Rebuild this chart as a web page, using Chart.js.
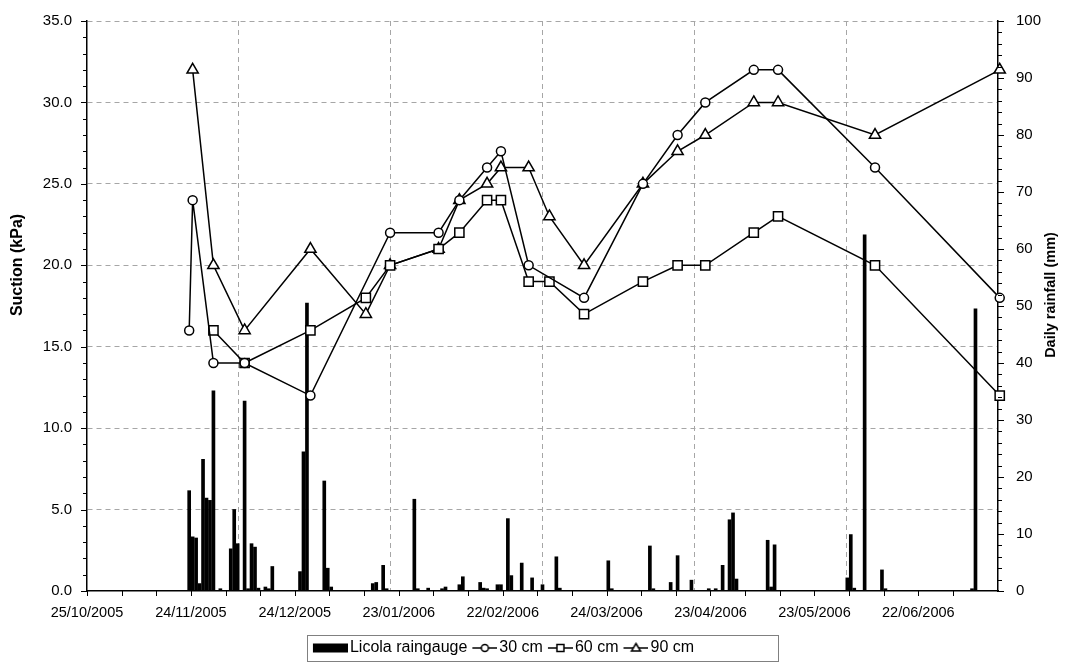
<!DOCTYPE html>
<html>
<head>
<meta charset="utf-8">
<script src="https://cdn.jsdelivr.net/npm/chart.js@4.4.0/dist/chart.umd.min.js"></script>
<style>
  html, body { margin: 0; padding: 0; background: #fff; }
  #wrap { width: 1068px; height: 662px; }
</style>
</head>
<body>
<div id="wrap"><canvas id="suctionChart"></canvas></div>
<script>
// day 0 and last day of the date axis
const startDate = '25/10/2005';
const endDate = '15/07/2006';

// tensiometer readings (kPa), null = no reading that day
const surveyDates = ['23/11/2005', '24/11/2005', '30/11/2005', '09/12/2005', '28/12/2005', '13/01/2006',
  '20/01/2006', '03/02/2006', '09/02/2006', '17/02/2006', '21/02/2006', '01/03/2006', '07/03/2006',
  '17/03/2006', '03/04/2006', '13/04/2006', '21/04/2006', '05/05/2006', '12/05/2006', '09/06/2006', '15/07/2006'];
const suction30 = [16, 24, 14, 14, 12, null, 22, 22, 24, 26, 27, 20, null, 18, 25, 28, 30, 32, 32, 26, 18];
const suction60 = [null, null, 16, 14, 16, 18, 20, 21, 22, 24, 24, 19, 19, 17, 19, 20, 20, 22, 23, 20, 12];
const suction90 = [null, 32, 20, 16, 21, 17, 20, 21, 24, 25, 26, 26, 23, 20, 25, 27, 28, 30, 30, 28, 32];

// Licola daily rainfall (mm)
const rainDates = ['23/11/2005', '24/11/2005', '25/11/2005', '26/11/2005', '27/11/2005', '28/11/2005', '29/11/2005',
  '30/11/2005', '02/12/2005', '05/12/2005', '06/12/2005', '07/12/2005', '09/12/2005', '10/12/2005', '11/12/2005',
  '12/12/2005', '13/12/2005', '15/12/2005', '16/12/2005', '17/12/2005', '25/12/2005', '26/12/2005', '27/12/2005',
  '01/01/2006', '02/01/2006', '03/01/2006', '15/01/2006', '16/01/2006', '18/01/2006', '19/01/2006', '27/01/2006',
  '28/01/2006', '31/01/2006', '04/02/2006', '05/02/2006', '09/02/2006', '10/02/2006', '15/02/2006', '16/02/2006',
  '17/02/2006', '20/02/2006', '21/02/2006', '23/02/2006', '24/02/2006', '27/02/2006', '02/03/2006', '05/03/2006',
  '09/03/2006', '10/03/2006', '24/03/2006', '25/03/2006', '05/04/2006', '06/04/2006', '11/04/2006', '13/04/2006',
  '17/04/2006', '22/04/2006', '24/04/2006', '26/04/2006', '28/04/2006', '29/04/2006', '30/04/2006', '09/05/2006',
  '10/05/2006', '11/05/2006', '01/06/2006', '02/06/2006', '03/06/2006', '06/06/2006', '11/06/2006', '12/06/2006',
  '07/07/2006', '08/07/2006'];
const rainMm = [17.6, 9.5, 9.3, 1.3, 23.1, 16.3, 15.9,
  35.1, 0.4, 7.4, 14.3, 8.3, 33.3, 0.4, 8.3,
  7.7, 0.5, 0.7, 0.4, 4.3, 3.4, 24.4, 50.5,
  19.3, 4.0, 0.7, 1.3, 1.5, 4.5, 0.4, 16.1,
  0.4, 0.5, 0.4, 0.7, 1.1, 2.5, 1.5, 0.5,
  0.4, 1.1, 1.1, 12.7, 2.7, 4.9, 2.3, 1.1,
  6.0, 0.5, 5.3, 0.4, 7.9, 0.4, 1.5, 6.2,
  1.9, 0.4, 0.4, 4.5, 12.5, 13.7, 2.1, 8.9,
  0.7, 8.1, 2.3, 9.9, 0.5, 62.5, 3.7, 0.4,
  0.4, 49.5];

const xTickLabels = ['25/10/2005', '24/11/2005', '24/12/2005', '23/01/2006', '22/02/2006',
  '24/03/2006', '23/04/2006', '23/05/2006', '22/06/2006'];

const FONT = 'Liberation Sans, Arial, sans-serif';

function toDay(s) {
  const [d, m, y] = s.split('/').map(Number);
  const [d0, m0, y0] = startDate.split('/').map(Number);
  return Math.round((Date.UTC(y, m - 1, d) - Date.UTC(y0, m0 - 1, d0)) / 86400000);
}

const xMax = toDay(endDate);
const labelDays = xTickLabels.map(toDay);

// points sit in the middle of their day, like the spreadsheet's date axis
const rainPoints = rainDates.map((d, i) => ({x: toDay(d) + 0.5, y: rainMm[i]}));
const seriesPoints = vals => surveyDates
  .map((d, i) => ({x: toDay(d) + 0.5, y: vals[i]}))
  .filter(p => p.y !== null);

// legend symbols: Excel-style line + marker
const ICON_W = 36, ICON_H = 14;
function makeIcon(draw) {
  const c = document.createElement('canvas');
  c.width = ICON_W;
  c.height = ICON_H;
  const g = c.getContext('2d');
  g.strokeStyle = '#000';
  g.fillStyle = '#000';
  g.lineWidth = 1.5;
  draw(g);
  return c;
}
function lineIcon(marker) {
  return makeIcon(g => {
    const cy = ICON_H / 2, x0 = ICON_W - 25, cx = ICON_W - 12.5;
    g.beginPath();
    g.moveTo(x0, cy);
    g.lineTo(ICON_W, cy);
    g.stroke();
    g.fillStyle = '#fff';
    g.beginPath();
    if (marker === 'circle') g.arc(cx, cy, 3.5, 0, Math.PI * 2);
    if (marker === 'rect') g.rect(cx - 3.5, cy - 3.5, 7, 7);
    if (marker === 'triangle') {
      g.moveTo(cx, cy - 4.5);
      g.lineTo(cx + 4.5, cy + 3);
      g.lineTo(cx - 4.5, cy + 3);
      g.closePath();
    }
    g.fill();
    g.stroke();
  });
}
const legendIcons = [
  makeIcon(g => g.fillRect(ICON_W - 35, 2.5, 35, 9)),
  lineIcon('circle'),
  lineIcon('rect'),
  lineIcon('triangle')
];

const axisExtras = {
  id: 'axisExtras',
  afterDraw(chart) {
    const {ctx, scales: {x, y, y2}} = chart;
    ctx.save();
    ctx.strokeStyle = '#000';
    ctx.lineWidth = 1;
    ctx.beginPath();
    x.ticks.forEach(t => {
      if (t.value % 10 !== 0) return;
      const px = Math.round(x.getPixelForValue(t.value)) + 0.5;
      ctx.moveTo(px, x.top);
      ctx.lineTo(px, x.top + 5);
    });
    y.ticks.forEach(t => {
      const py = Math.round(y.getPixelForValue(t.value)) + 0.5;
      ctx.moveTo(y.right - (t.value % 5 === 0 ? 6 : 4), py);
      ctx.lineTo(y.right, py);
    });
    y2.ticks.forEach(t => {
      const py = Math.round(y2.getPixelForValue(t.value)) + 0.5;
      ctx.moveTo(y2.left, py);
      ctx.lineTo(y2.left + (t.value % 10 === 0 ? 6 : 4), py);
    });
    ctx.stroke();

    // axis titles
    ctx.fillStyle = '#000';
    ctx.textAlign = 'center';
    ctx.textBaseline = 'middle';
    ctx.font = 'bold 16px ' + FONT;
    ctx.save();
    ctx.translate(18, 265);
    ctx.rotate(-Math.PI / 2);
    ctx.fillText('Suction (kPa)', 0, 0);
    ctx.restore();
    ctx.font = 'bold 14.5px ' + FONT;
    ctx.save();
    ctx.translate(1051, 295);
    ctx.rotate(-Math.PI / 2);
    ctx.fillText('Daily rainfall (mm)', 0, 0);
    ctx.restore();

    // legend frame
    const boxes = chart.legend.legendHitBoxes;
    if (boxes && boxes.length) {
      const first = boxes[0];
      const left = Math.round(first.left) - 10.5;
      const top = Math.round(first.top) - 4.5;
      ctx.strokeStyle = '#808080';
      ctx.lineWidth = 1;
      ctx.strokeRect(left, top, 471, 661.5 - top);
    }
    ctx.restore();
  }
};

const lineStyle = (label, vals, marker, radius) => ({
  type: 'line',
  label: label,
  data: seriesPoints(vals),
  xAxisID: 'x',
  yAxisID: 'y',
  borderColor: '#000',
  borderWidth: 1.5,
  pointStyle: marker,
  pointRadius: radius,
  pointHoverRadius: radius,
  pointBackgroundColor: '#fff',
  pointBorderColor: '#000',
  pointBorderWidth: 1.5,
  tension: 0,
  clip: false,
  order: 1
});

const ctx = document.getElementById('suctionChart').getContext('2d');
const chart = new Chart(ctx, {
  data: {
    datasets: [
      {
        type: 'bar',
        label: 'Licola raingauge',
        data: rainPoints,
        xAxisID: 'x',
        yAxisID: 'y2',
        backgroundColor: '#000',
        borderWidth: 0,
        barThickness: 3,
        order: 2
      },
      lineStyle('30 cm', suction30, 'circle', 4.5),
      lineStyle('60 cm', suction60, 'rect', 6.5),
      lineStyle('90 cm', suction90, 'triangle', 6.5)
    ]
  },
  options: {
    responsive: true,
    maintainAspectRatio: false,
    animation: false,
    // negative left padding only shifts the centred legend left
    layout: { padding: { left: -56, right: 0, top: 21, bottom: 5 } },
    plugins: {
      tooltip: { enabled: false },
      legend: {
        position: 'bottom',
        maxHeight: 17,
        labels: {
          usePointStyle: true,
          pointStyleWidth: 24,
          padding: 0,
          color: '#000',
          font: { family: FONT, size: 16 },
          generateLabels: chart => chart.data.datasets.map((ds, i) => ({
            text: ds.label,
            pointStyle: legendIcons[i],
            datasetIndex: i,
            hidden: false,
            lineWidth: 0,
            strokeStyle: 'transparent',
            fillStyle: 'transparent',
            fontColor: '#000'
          }))
        }
      }
    },
    scales: {
      x: {
        type: 'linear',
        position: 'bottom',
        offset: false,
        min: 0,
        max: xMax,
        ticks: {
          stepSize: 10,
          autoSkip: false,
          maxRotation: 0,
          padding: 8,
          color: '#000',
          font: { family: FONT, size: 14.5 },
          callback: v => {
            const i = labelDays.indexOf(v);
            return i >= 0 ? xTickLabels[i] : '';
          }
        },
        grid: { drawOnChartArea: false, offset: false, tickLength: 5, tickColor: 'transparent' },
        border: { color: '#000', width: 1.5 },
        afterFit: s => { s.height = 49; }
      },
      // six even divisions for the vertical grid
      xGrid: {
        type: 'linear',
        position: 'top',
        offset: false,
        min: 0,
        max: 6,
        ticks: { display: false, stepSize: 1 },
        grid: {
          drawTicks: false,
          offset: false,
          color: '#a6a6a6',
          lineWidth: c => (c.tick.value > 0 && c.tick.value < 6) ? 1 : 0
        },
        border: { display: false, dash: [5, 4] },
        afterFit: s => { s.height = 0; }
      },
      y: {
        type: 'linear',
        position: 'left',
        min: 0,
        max: 35,
        ticks: {
          stepSize: 1,
          autoSkip: false,
          padding: 9,
          color: '#000',
          font: { family: FONT, size: 15 },
          callback: v => v % 5 === 0 ? v.toFixed(1) : ''
        },
        grid: {
          color: '#a6a6a6',
          lineWidth: c => (c.tick.value % 5 === 0 && c.tick.value > 0) ? 1 : 0,
          tickLength: 6,
          tickColor: 'transparent'
        },
        border: { color: '#000', width: 1.5, dash: [5, 4] },
        afterFit: s => { s.width = 143; }
      },
      y2: {
        type: 'linear',
        position: 'right',
        min: 0,
        max: 100,
        ticks: {
          stepSize: 2,
          autoSkip: false,
          padding: 12,
          color: '#000',
          font: { family: FONT, size: 15 },
          callback: v => v % 10 === 0 ? String(v) : ''
        },
        grid: { drawOnChartArea: false, tickLength: 6, tickColor: 'transparent' },
        border: { color: '#000', width: 1.5 },
        afterFit: s => { s.width = 70; }
      }
    }
  },
  plugins: [axisExtras]
});
</script>
</body>
</html>
